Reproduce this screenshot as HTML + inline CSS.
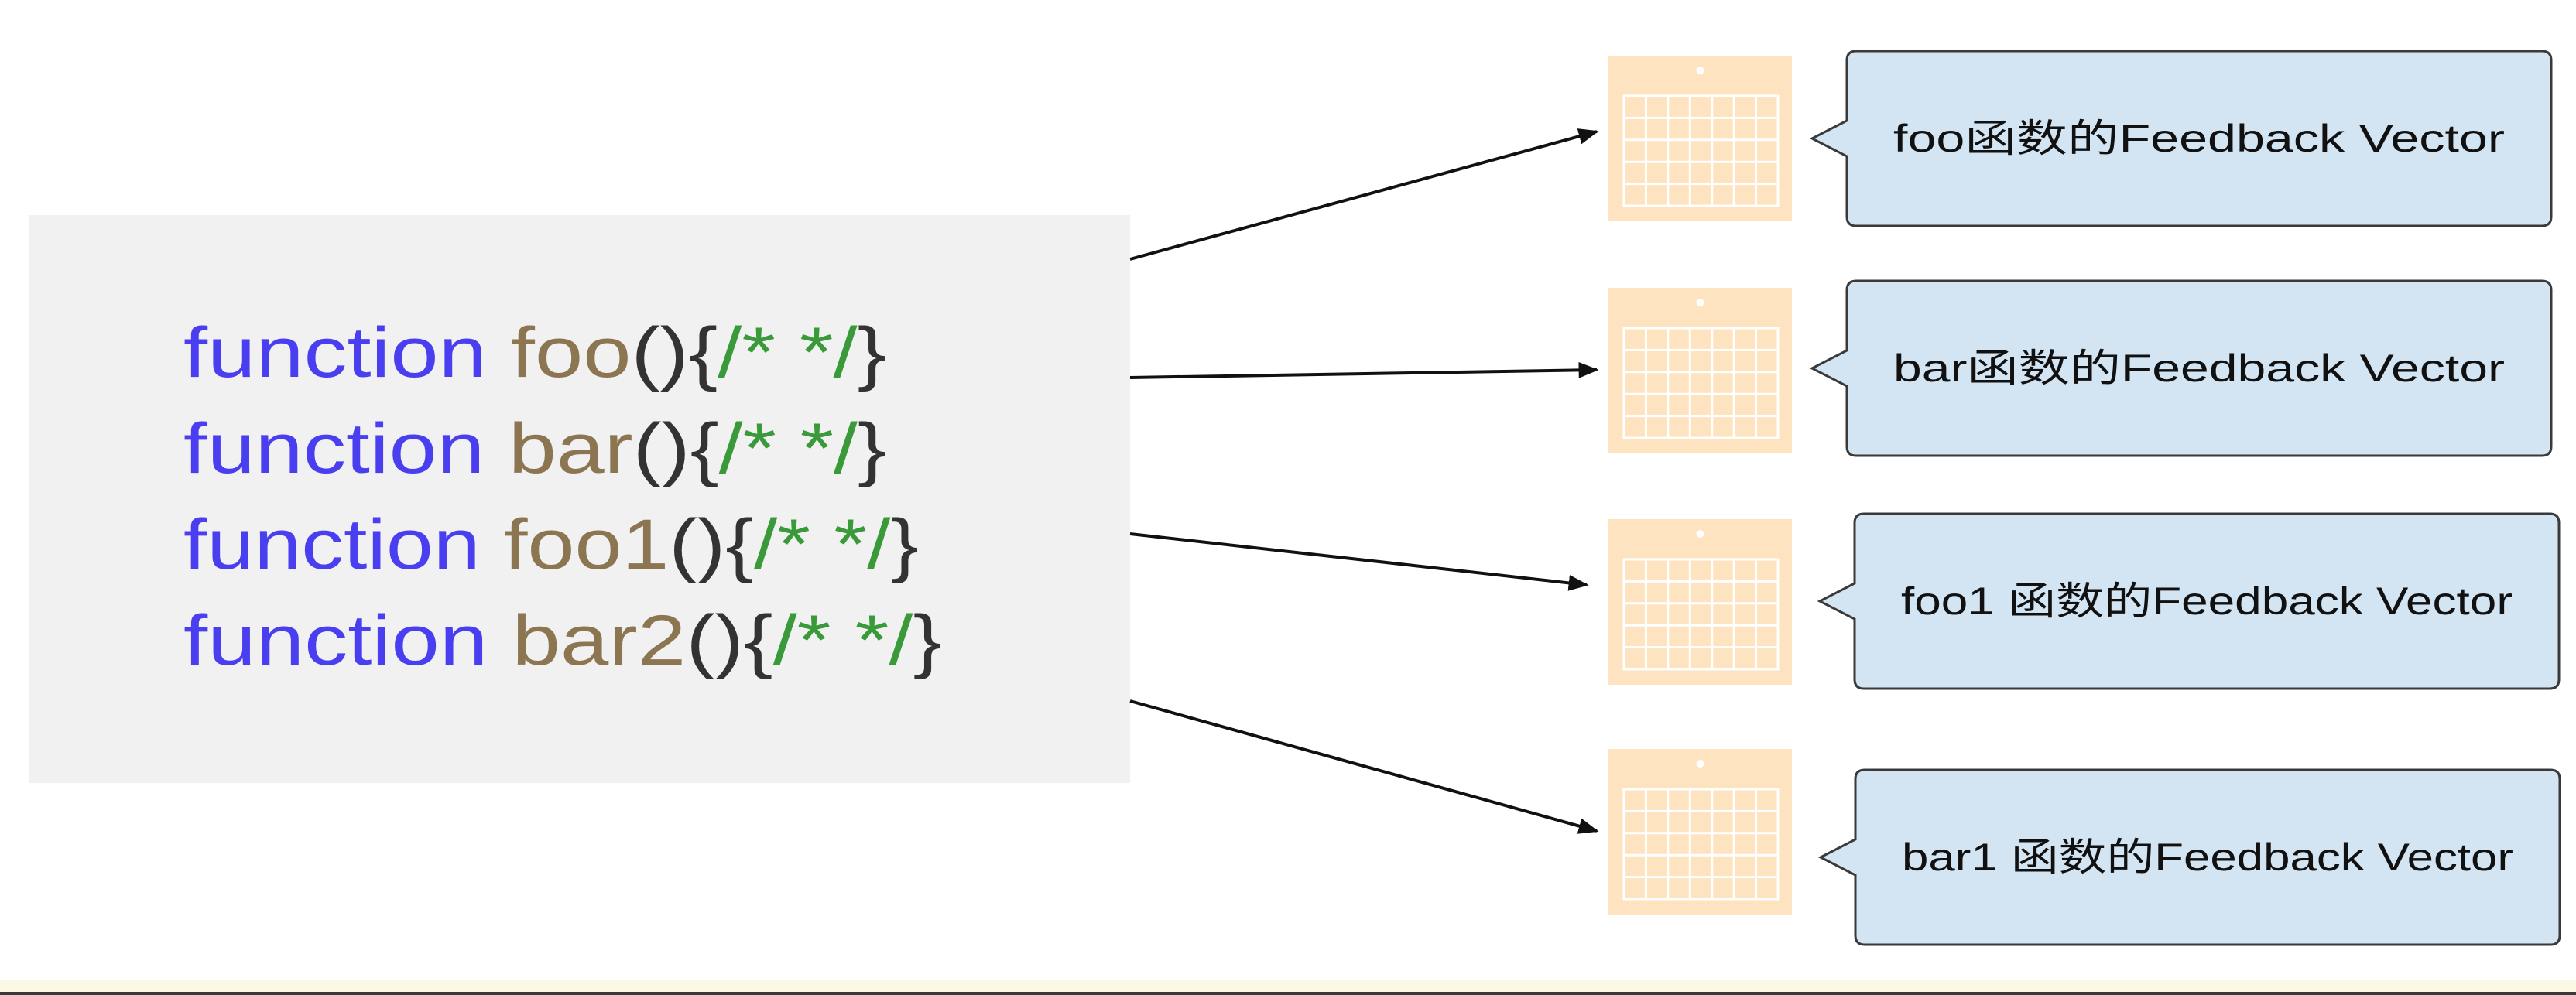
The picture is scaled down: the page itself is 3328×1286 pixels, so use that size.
<!DOCTYPE html>
<html><head><meta charset="utf-8">
<style>
html,body{margin:0;padding:0;background:#fff;}
svg{display:block;}
</style></head>
<body>
<svg id="root" width="3328" height="1286" viewBox="0 0 3328 1286" xmlns="http://www.w3.org/2000/svg">
<defs>
<marker id="ahb" viewBox="0 0 10 10" markerWidth="26" markerHeight="26" refX="9" refY="5" orient="auto" markerUnits="userSpaceOnUse">
<path d="M0,1 L10,5 L0,9 z" fill="#111"/>
</marker>
</defs>
<rect x="0" y="0" width="3328" height="1286" fill="#fff"/>
<rect x="0" y="1266" width="3328" height="16" fill="#fbf8e6"/>
<rect x="0" y="1282" width="3328" height="4" fill="#3a3a3a"/>

<g>
<rect x="38" y="278" width="1422" height="734" fill="#f1f1f1"/>
<g font-family="Liberation Sans, sans-serif" font-size="92">
<text x="237" y="487" textLength="908" lengthAdjust="spacingAndGlyphs"><tspan fill="#4a3ff0">function </tspan><tspan fill="#8c7652">foo</tspan><tspan fill="#333">(){</tspan><tspan fill="#3a9a3a">/* */</tspan><tspan fill="#333">}</tspan></text>
<text x="237" y="611" textLength="908" lengthAdjust="spacingAndGlyphs"><tspan fill="#4a3ff0">function </tspan><tspan fill="#8c7652">bar</tspan><tspan fill="#333">(){</tspan><tspan fill="#3a9a3a">/* */</tspan><tspan fill="#333">}</tspan></text>
<text x="237" y="735" textLength="950" lengthAdjust="spacingAndGlyphs"><tspan fill="#4a3ff0">function </tspan><tspan fill="#8c7652">foo1</tspan><tspan fill="#333">(){</tspan><tspan fill="#3a9a3a">/* */</tspan><tspan fill="#333">}</tspan></text>
<text x="237" y="859" textLength="980" lengthAdjust="spacingAndGlyphs"><tspan fill="#4a3ff0">function </tspan><tspan fill="#8c7652">bar2</tspan><tspan fill="#333">(){</tspan><tspan fill="#3a9a3a">/* */</tspan><tspan fill="#333">}</tspan></text>
</g>
</g>

<g stroke="#111" stroke-width="4" marker-end="url(#ahb)">
<line x1="1460" y1="335" x2="2063" y2="170"/>
<line x1="1460" y1="488" x2="2063" y2="478"/>
<line x1="1460" y1="690" x2="2050" y2="756"/>
<line x1="1460" y1="906" x2="2063" y2="1074"/>
</g>

<g id="icons"></g>
<g id="bubbles"></g>
</svg>
<script>
var iconTops = [72, 372, 671, 968];
var bubbleXs = [2386, 2386, 2396, 2397];
var bubbleYs = [66, 363, 664, 995];
var bubbleLabels = ["foo函数的Feedback Vector", "bar函数的Feedback Vector", "foo1 函数的Feedback Vector", "bar1 函数的Feedback Vector"];
var NS = "http://www.w3.org/2000/svg";
function mk(tag, attrs, parent) {
  var e = document.createElementNS(NS, tag);
  for (var k in attrs) e.setAttribute(k, attrs[k]);
  parent.appendChild(e);
  return e;
}
var ig = document.getElementById("icons");
for (var i = 0; i < iconTops.length; i++) {
  var iy = iconTops[i];
  var g = document.createElementNS(NS, "g");
  
  
  ig.appendChild(g);
  var ix = 2078, iw = 237, ih = 214;
  mk("rect", {x: ix, y: iy, width: iw, height: ih, fill: "#fde3bf"}, g);
  mk("circle", {cx: ix + iw / 2, cy: iy + 19, r: 5, fill: "#fff"}, g);
  var gx = ix + 20, gy = iy + 52, gw = 199, gh = 142;
  mk("rect", {x: gx, y: gy, width: gw, height: gh, fill: "none", stroke: "#fff", "stroke-width": 3}, g);
  for (var c = 1; c < 7; c++) mk("line", {x1: gx + gw * c / 7, y1: gy, x2: gx + gw * c / 7, y2: gy + gh, stroke: "#fff", "stroke-width": 3}, g);
  for (var r = 1; r < 5; r++) mk("line", {x1: gx, y1: gy + gh * r / 5, x2: gx + gw, y2: gy + gh * r / 5, stroke: "#fff", "stroke-width": 3}, g);
}
var bg = document.getElementById("bubbles");
for (var j = 0; j < bubbleXs.length; j++) {
  var bx = bubbleXs[j], by = bubbleYs[j], bw = 910, bh = 226, rr = 12, my = by + bh / 2;
  var bgp = document.createElementNS(NS, "g");
  
  
  bg.appendChild(bgp);
  var d = "M" + (bx + rr) + "," + by + " H" + (bx + bw - rr) + " Q" + (bx + bw) + "," + by + " " + (bx + bw) + "," + (by + rr) +
    " V" + (by + bh - rr) + " Q" + (bx + bw) + "," + (by + bh) + " " + (bx + bw - rr) + "," + (by + bh) +
    " H" + (bx + rr) + " Q" + bx + "," + (by + bh) + " " + bx + "," + (by + bh - rr) +
    " V" + (my + 23) + " L" + (bx - 45) + "," + my + " L" + bx + "," + (my - 23) +
    " V" + (by + rr) + " Q" + bx + "," + by + " " + (bx + rr) + "," + by + " Z";
  mk("path", {d: d, fill: "#d3e4f2", stroke: "#3a3a3a", "stroke-width": 3}, bgp);
  var t = mk("text", {x: bx + bw / 2, y: my + 17, "text-anchor": "middle", "font-family": "Liberation Sans, Noto Sans CJK SC, sans-serif", "font-size": 50, fill: "#111", textLength: 790, lengthAdjust: "spacingAndGlyphs"}, bgp);
  t.textContent = bubbleLabels[j];
}
</script>
</body></html>
